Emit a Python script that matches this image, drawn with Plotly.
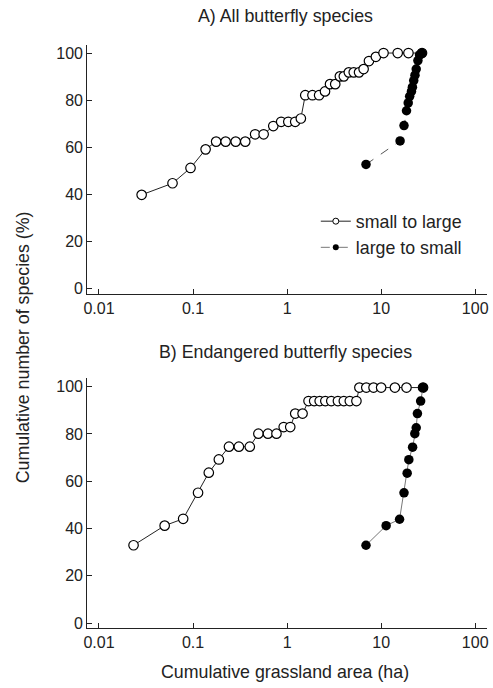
import plotly.graph_objects as go

# ---- Data ----
# Panel A: all butterfly species
a_small_x = [0.0284, 0.0605, 0.094, 0.136, 0.176, 0.222, 0.284, 0.359, 0.457, 0.563,
             0.713, 0.865, 1.03, 1.22, 1.40, 1.56, 1.86, 2.19, 2.53, 2.86, 3.25,
             3.64, 4.01, 4.53, 5.11, 5.82, 6.51, 7.42, 8.79, 10.6, 15.0, 19.5, 27.2]
a_small_y = [39.8, 44.7, 51.2, 59.1, 62.4, 62.4, 62.4, 62.4, 65.5, 65.5,
             69.0, 70.8, 70.8, 70.8, 72.2, 82.1, 82.1, 82.1, 83.7, 86.8, 86.8,
             90.1, 90.1, 91.8, 91.8, 91.8, 93.2, 96.6, 98.4, 100, 100, 100, 100]
a_large_x = [6.9, 15.9, 17.5, 18.6, 19.4, 20.1, 21.0, 21.5, 22.2, 22.9, 23.6, 24.6, 25.6, 27.2]
a_large_y = [52.7, 62.7, 69.2, 75.5, 78.8, 81.6, 83.7, 85.5, 88.3, 90.6, 93.2, 96.8, 99.2, 100]

# Panel B: endangered butterfly species
b_small_x = [0.0233, 0.0499, 0.0785, 0.113, 0.147, 0.188, 0.241, 0.307, 0.401, 0.495,
             0.626, 0.771, 0.92, 1.08, 1.22, 1.46, 1.69, 1.94, 2.22, 2.55, 2.95,
             3.47, 4.01, 4.64, 5.46, 5.87, 6.95, 8.3, 10.0, 14.0, 18.6, 27.9]
b_small_y = [32.9, 41.2, 44.1, 55.1, 63.6, 69.2, 74.6, 74.6, 74.6, 80.1,
             80.1, 80.1, 82.9, 82.9, 88.6, 88.6, 93.9, 93.9, 93.9, 93.9, 93.9,
             93.9, 93.9, 93.9, 93.9, 99.6, 99.6, 99.6, 99.6, 99.6, 99.6, 99.6]
b_large_x = [6.9, 11.3, 15.7, 17.5, 18.9, 19.7, 21.6, 22.8, 23.6, 24.3, 26.3, 27.9]
b_large_y = [32.9, 41.2, 43.9, 55.1, 63.4, 69.1, 74.4, 80.1, 82.6, 88.6, 93.9, 99.6]

x_tickvals = [0.01, 0.1, 1, 10, 100]
x_ticktext = ["0.01", "0.1", "1", "10", "100"]
y_tickvals = [0, 20, 40, 60, 80, 100]

legend_names = ["small to large", "large to small"]
titles = ["A) All butterfly species", "B) Endangered butterfly species"]
x_title = "Cumulative grassland area (ha)"
y_title = "Cumulative number of species (%)"

FONT = "Liberation Sans, Arial, Helvetica, sans-serif"
W, H = 493, 688
INK = "#222"

fig = go.Figure()

open_fill = dict(symbol="circle", size=9.5, color="white", line=dict(width=1.2, color="black"))
solid_marker = dict(symbol="circle", size=9.5, color="black", line=dict(width=0))

# Panel A
fig.add_trace(go.Scatter(x=a_small_x, y=a_small_y, mode="lines+markers", xaxis="x", yaxis="y",
                         line=dict(color=INK, width=1), marker=open_fill, showlegend=False))
fig.add_trace(go.Scatter(x=a_large_x, y=a_large_y, mode="lines+markers", xaxis="x", yaxis="y",
                         line=dict(color="#555", width=1, dash="dash"), marker=solid_marker, showlegend=False))
# Panel B
fig.add_trace(go.Scatter(x=b_small_x, y=b_small_y, mode="lines+markers", xaxis="x2", yaxis="y2",
                         line=dict(color=INK, width=1), marker=open_fill, showlegend=False))
fig.add_trace(go.Scatter(x=b_large_x, y=b_large_y, mode="lines+markers", xaxis="x2", yaxis="y2",
                         line=dict(color="#777", width=1), marker=solid_marker, showlegend=False))

# Legend entries (legend-only)
fig.add_trace(go.Scatter(x=[None], y=[None], mode="lines+markers", name=legend_names[0],
                         line=dict(color=INK, width=1),
                         marker=dict(symbol="circle", size=6, color="white", line=dict(width=1, color="black"))))
fig.add_trace(go.Scatter(x=[None], y=[None], mode="lines+markers", name=legend_names[1],
                         line=dict(color="#777", width=1, dash="dash"),
                         marker=dict(symbol="circle", size=6, color="black")))

xl, xr = 84 / W, 488 / W
top_dom = [1 - 295 / H, 1 - 45 / H]
bot_dom = [1 - 631 / H, 1 - 380 / H]

xaxis_common = dict(type="log", range=[-2.126, 2.126], tickvals=x_tickvals, ticktext=x_ticktext,
                    showline=True, linecolor=INK, linewidth=1, ticks="inside", ticklen=5,
                    tickcolor=INK, showgrid=False, zeroline=False, domain=[xl, xr],
                    tickfont=dict(size=16, color=INK, family=FONT))
yaxis_common = dict(range=[-2.2, 103.5], tickvals=y_tickvals, showline=True, linecolor=INK,
                    linewidth=1, ticks="inside", ticklen=5, tickcolor=INK, showgrid=False,
                    zeroline=False, tickfont=dict(size=16, color=INK, family=FONT))

ann_font = dict(size=17.8, family=FONT, color=INK)

fig.update_layout(
    width=W, height=H,
    margin=dict(l=0, r=0, t=0, b=0),
    paper_bgcolor="white", plot_bgcolor="white",
    font=dict(family=FONT, color=INK, size=17),
    xaxis=dict(**xaxis_common, anchor="y"),
    yaxis=dict(**yaxis_common, domain=top_dom, anchor="x"),
    xaxis2=dict(**xaxis_common, anchor="y2"),
    yaxis2=dict(**yaxis_common, domain=bot_dom, anchor="x2"),
    legend=dict(x=315 / W, y=1 - 204 / H, xanchor="left", yanchor="top",
                bgcolor="rgba(0,0,0,0)", font=dict(size=17.8, family=FONT, color=INK),
                itemwidth=30, tracegroupgap=0),
    annotations=[
        dict(text=titles[0], x=284 / W, y=1 - 16 / H, xref="paper", yref="paper",
             xanchor="center", yanchor="middle", showarrow=False, font=ann_font),
        dict(text=titles[1], x=284 / W, y=1 - 354 / H, xref="paper", yref="paper",
             xanchor="center", yanchor="middle", showarrow=False, font=ann_font),
        dict(text=x_title, x=284 / W, y=1 - 675 / H, xref="paper", yref="paper",
             xanchor="center", yanchor="middle", showarrow=False, font=ann_font),
        dict(text=y_title, x=20 / W, y=1 - 349 / H, xref="paper", yref="paper", textangle=-90,
             xanchor="center", yanchor="middle", showarrow=False, font=ann_font),
    ],
)

fig.write_html("out.html", config={"displayModeBar": False},
               post_script="document.body.style.margin='0';document.body.style.overflow='hidden';")
